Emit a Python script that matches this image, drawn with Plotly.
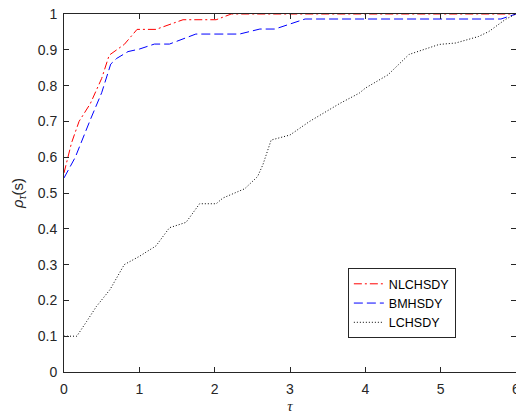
import plotly.graph_objects as go

# NLCHSDY
tau_nl = [0, 0.1, 0.2, 0.35, 0.5, 0.6, 0.8, 0.97, 1.22, 1.58, 2.02, 2.22, 6]
rho_nl = [0.556, 0.64, 0.70, 0.75, 0.82, 0.885, 0.915, 0.957, 0.957, 0.984, 0.984, 1.0, 1.0]

# BMHSDY
tau_bm = [0, 0.15, 0.35, 0.5, 0.62, 0.7, 0.85, 1.0, 1.2, 1.4, 1.75, 2.33, 2.6, 2.8, 3.2, 5.8, 6]
rho_bm = [0.542, 0.60, 0.705, 0.78, 0.86, 0.876, 0.895, 0.902, 0.916, 0.916, 0.944, 0.944, 0.958, 0.958, 0.986, 0.986, 1.0]

# LCHSDY
tau_lc = [0, 0.17, 0.3, 0.43, 0.61, 0.8, 1.0, 1.22, 1.4, 1.62, 1.8, 2.02, 2.11, 2.4, 2.57, 2.64,
          2.75, 3.0, 3.26, 3.66, 3.92, 4.0, 4.3, 4.58, 4.98, 5.2, 5.5, 5.64, 5.86, 6]
rho_lc = [0.1, 0.1, 0.141, 0.183, 0.23, 0.3, 0.323, 0.352, 0.403, 0.418, 0.47, 0.47, 0.486, 0.512, 0.546, 0.579,
          0.648, 0.662, 0.70, 0.75, 0.779, 0.793, 0.83, 0.887, 0.915, 0.919, 0.937, 0.951, 0.985, 1.0]

x_ticks = [0, 1, 2, 3, 4, 5, 6]
y_ticks = [0, 0.1, 0.2, 0.3, 0.4, 0.5, 0.6, 0.7, 0.8, 0.9, 1]

fig = go.Figure()
fig.add_trace(go.Scatter(x=tau_nl, y=rho_nl, mode="lines", name="NLCHSDY",
                         line=dict(color="#ff0000", width=1, dash="8px,3px,2px,3px")))
fig.add_trace(go.Scatter(x=tau_bm, y=rho_bm, mode="lines", name="BMHSDY",
                         line=dict(color="#0000ff", width=1, dash="9px,4px")))
fig.add_trace(go.Scatter(x=tau_lc, y=rho_lc, mode="lines", name="LCHSDY",
                         line=dict(color="#000000", width=1, dash="1px,2px")))

axis_common = dict(
    showline=True, linecolor="#262626", linewidth=1, mirror="ticks",
    ticks="inside", ticklen=5, tickcolor="#262626", tickwidth=1,
    showgrid=False, zeroline=False, ticklabeloverflow="allow", automargin=False,
    tickfont=dict(family="Liberation Sans, Arial", size=14, color="#262626"),
)

fig.update_layout(
    width=516, height=419,
    margin=dict(l=64, r=0, t=14, b=47),
    plot_bgcolor="white", paper_bgcolor="white",
    xaxis=dict(range=[0, 6], tickvals=x_ticks, ticklabelstandoff=4, **axis_common,
               title=dict(text="<i>τ</i>", standoff=4,
                          font=dict(family="Liberation Serif, Times New Roman", size=15, color="#262626"))),
    yaxis=dict(range=[0, 1], tickvals=y_ticks, ticklabelstandoff=3, **axis_common,
               title=dict(text="<i>ρ</i><sub><i>τ</i></sub>(s)", standoff=10,
                          font=dict(family="Liberation Sans, Arial", size=15, color="#262626"))),
    legend=dict(x=0.628, y=0.29, xanchor="left", yanchor="top",
                bgcolor="white", bordercolor="#262626", borderwidth=1,
                font=dict(family="Liberation Sans, Arial", size=12.5, color="#000000"),
                tracegroupgap=0, itemwidth=30),
    showlegend=True,
)

fig.write_html("out.html")
